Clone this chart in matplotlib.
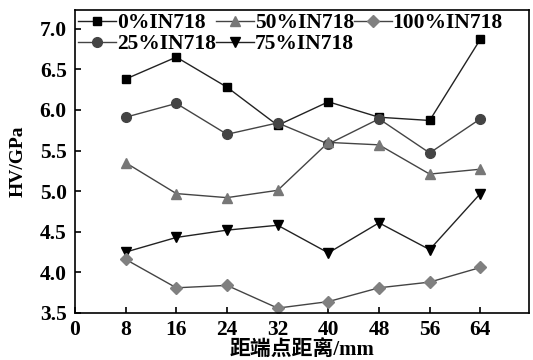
import matplotlib.pyplot as plt
import numpy as np

plt.rcParams['font.family'] = ['Liberation Serif', 'Noto Sans CJK SC']
plt.rcParams['font.weight'] = 'bold'

x = [8, 16, 24, 32, 40, 48, 56, 64]
hv_0 = [6.38, 6.65, 6.28, 5.81, 6.10, 5.91, 5.87, 6.87]
hv_25 = [5.91, 6.08, 5.70, 5.84, 5.58, 5.89, 5.47, 5.89]
hv_50 = [5.35, 4.97, 4.92, 5.01, 5.60, 5.57, 5.21, 5.27]
hv_75 = [4.25, 4.43, 4.52, 4.58, 4.24, 4.61, 4.28, 4.97]
hv_100 = [4.16, 3.81, 3.84, 3.56, 3.64, 3.81, 3.88, 4.06]

fig = plt.figure(figsize=(5.33, 3.6), dpi=100)
ax = fig.add_axes([0.1407, 0.1306, 0.852, 0.8416])

lc = '#222222'
ax.plot(x, hv_0, color=lc, lw=1, marker='s', ms=6, mfc='black', mec='black', label='0%IN718')
ax.plot(x, hv_25, color='#444444', lw=1, marker='o', ms=7, mfc='#444444', mec='#444444', label='25%IN718')
ax.plot(x, hv_50, color='#444444', lw=1, marker='^', ms=7, mfc='#777777', mec='#777777', label='50%IN718')
ax.plot(x, hv_75, color=lc, lw=1, marker='v', ms=7, mfc='black', mec='black', label='75%IN718')
ax.plot(x, hv_100, color='#444444', lw=1, marker='D', ms=6, mfc='#808080', mec='#808080', label='100%IN718')

ax.set_xlim(0, 71.7)
ax.set_ylim(3.5, 7.23)
ax.set_xticks([0, 8, 16, 24, 32, 40, 48, 56, 64])
ax.set_yticks(np.arange(3.5, 7.01, 0.5))
ax.yaxis.set_major_formatter(plt.FormatStrFormatter('%.1f'))
ax.tick_params(direction='in', length=4, width=1.2, labelsize=15.5)
ax.tick_params(axis='y', pad=6)
ax.tick_params(axis='x', pad=5)
for s in ax.spines.values():
    s.set_linewidth(1.2)

ax.set_xlabel('距端点距离/mm', fontsize=15, fontweight='bold', labelpad=0)
ax.set_ylabel('HV/GPa', fontsize=14, fontweight='bold', labelpad=9)

ax.legend(loc='upper left', ncol=3, frameon=False, fontsize=15.5,
          borderaxespad=0.15, borderpad=0.0, handlelength=1.75, handletextpad=0.05,
          columnspacing=0.0, labelspacing=0.05)

fig.savefig('out.png', dpi=100)
